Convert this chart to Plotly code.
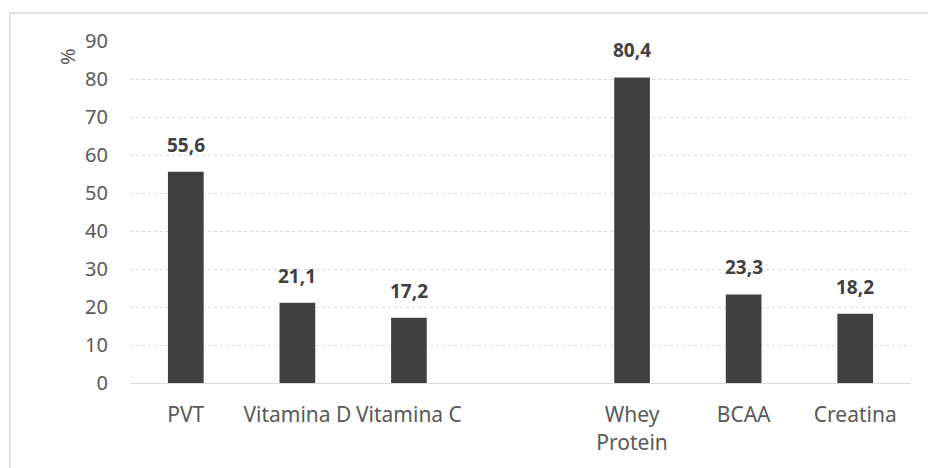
import plotly.graph_objects as go

# Supplement use (%)
categories = ["PVT", "Vitamina D", "Vitamina C", " ", "Whey<br>Protein", "BCAA", "Creatina"]
values = [55.6, 21.1, 17.2, None, 80.4, 23.3, 18.2]
y_ticks = [0, 10, 20, 30, 40, 50, 60, 70, 80, 90]

font_family = "Noto Sans, DejaVu Sans, sans-serif"
gray_text = "#595959"

fig = go.Figure(
    go.Bar(
        x=categories,
        y=values,
        marker=dict(color="#404040", line=dict(width=0)),
        width=0.32,
        hoverinfo="skip",
    )
)

# value labels above each bar, taken from the same values
label_annotations = [
    dict(
        x=c,
        y=v,
        xref="x",
        yref="y",
        text=f"{v:.1f}".replace(".", ","),
        showarrow=False,
        yanchor="bottom",
        yshift=12,
        font=dict(family=font_family, size=19, color="#404040", weight="bold"),
    )
    for c, v in zip(categories, values)
    if v is not None
]

fig.update_layout(
    width=928,
    height=468,
    margin=dict(l=130, r=17, t=41, b=85),
    paper_bgcolor="white",
    plot_bgcolor="white",
    separators=",.",
    showlegend=False,
    xaxis=dict(
        type="category",
        tickfont=dict(family=font_family, size=21, color=gray_text),
        showgrid=False,
        showline=True,
        linecolor="#d9d9d9",
        linewidth=1,
        ticks="",
        ticklabelstandoff=13,
    ),
    yaxis=dict(
        range=[0, 90],
        tickvals=y_ticks,
        tickfont=dict(family=font_family, size=20, color=gray_text),
        showgrid=True,
        gridcolor="#d9d9d9",
        griddash="dot",
        gridwidth=1,
        zeroline=False,
        showline=False,
        ticks="",
        ticklabelstandoff=21,
    ),
    annotations=label_annotations
    + [
        dict(
            text="%",
            xref="paper",
            yref="paper",
            x=(67 - 130) / 781,
            y=1 - (57 - 41) / 342,
            xanchor="center",
            yanchor="middle",
            textangle=-90,
            showarrow=False,
            font=dict(family=font_family, size=20, color=gray_text),
        )
    ],
    shapes=[
        dict(
            type="rect",
            xref="paper",
            yref="paper",
            x0=(10 - 130) / 781,
            x1=1.05,
            y0=-0.3,
            y1=1 + (41 - 13) / 342,
            line=dict(color="#d9d9d9", width=1.5),
            fillcolor="rgba(0,0,0,0)",
            layer="below",
        )
    ],
)

fig.write_html("out.html")
